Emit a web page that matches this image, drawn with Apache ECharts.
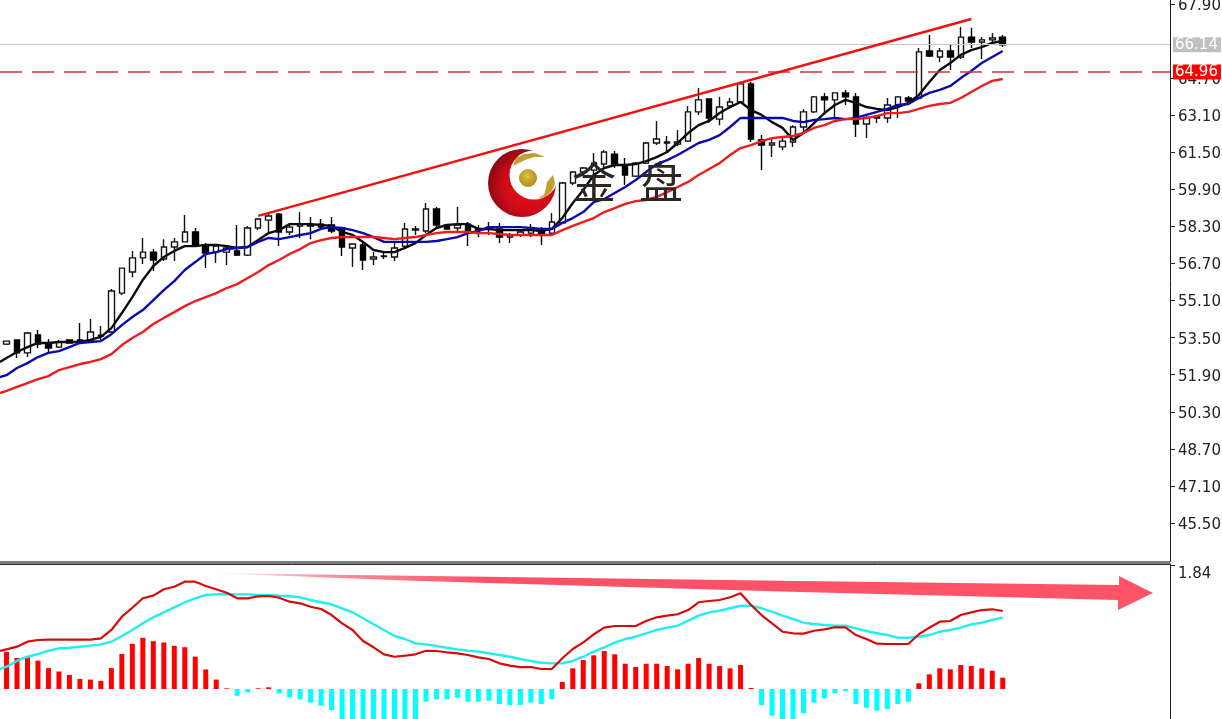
<!DOCTYPE html>
<html><head><meta charset="utf-8">
<style>html,body{margin:0;padding:0;background:#fff}#c{width:1222px;height:719px}</style>
<script src="https://cdn.jsdelivr.net/npm/echarts@6/dist/echarts.min.js"></script>
</head><body><div id="c"></div>
<script>
const priceTicks=[67.90,64.70,63.10,61.50,59.90,58.30,56.70,55.10,53.50,51.90,50.30,48.70,47.10,45.50];
const macdTicks=[1.84];
const bidPrice=66.14, alertPrice=64.96;
const trendLine=[[24,58.75],[92,67.25]];
const opens=[53.22,53.40,52.84,53.61,53.27,53.09,53.40,53.40,53.40,53.57,
53.74,55.42,56.33,56.94,57.19,56.89,57.41,57.63,58.06,57.50,
57.19,57.19,57.24,57.06,58.23,58.57,58.83,58.06,58.32,58.36,
58.40,58.36,58.23,57.37,57.50,56.89,57.00,56.98,57.45,58.14,
58.10,59.05,58.36,58.23,58.40,58.14,58.19,58.19,57.84,57.93,
58.01,58.10,58.01,58.45,60.17,60.65,60.73,60.99,61.42,60.95,
60.47,61.03,61.90,61.90,61.85,61.98,63.24,63.80,62.93,63.50,
63.67,64.45,62.03,61.81,61.73,61.94,62.59,63.24,63.89,63.76,
64.06,63.89,62.72,63.06,62.98,63.54,63.84,63.84,65.87,65.61,
65.87,65.61,66.47,66.26,66.35,66.47];
const closes=[53.35,52.84,53.70,53.22,53.05,53.31,53.27,53.31,53.74,53.60,
55.51,56.50,56.94,57.19,56.85,57.41,57.63,58.06,57.50,57.15,
57.45,57.37,57.06,58.23,58.62,58.75,58.06,58.27,58.40,58.32,
58.27,58.10,57.41,57.54,56.85,56.98,57.02,57.37,58.19,58.19,
59.05,58.36,58.19,58.36,58.06,58.19,58.27,57.84,57.93,58.06,
58.23,57.97,58.49,60.17,60.65,60.82,61.03,61.51,60.99,60.52,
61.03,61.90,62.07,61.94,61.94,63.24,63.76,62.98,63.45,63.67,
64.45,62.07,61.81,61.90,61.98,62.59,63.24,63.89,63.76,64.06,
63.89,62.72,62.98,62.98,63.54,63.89,63.71,65.83,65.65,65.87,
65.61,66.47,66.26,66.35,66.43,66.14];
const lows=[53.18,52.62,52.66,53.05,52.84,53.05,53.27,53.27,53.27,53.31,
53.70,55.34,56.11,56.68,56.37,56.81,56.81,57.63,57.45,56.50,
56.72,56.63,57.02,57.02,58.14,58.06,57.45,57.93,57.80,57.75,
58.23,58.01,57.02,56.55,56.42,56.63,56.89,56.81,57.32,57.93,
58.01,58.23,58.19,58.01,57.45,57.84,57.93,57.58,57.58,57.84,
57.84,57.50,57.93,58.45,60.09,60.60,60.52,60.86,60.82,60.09,
60.43,60.99,61.81,61.47,61.77,61.94,63.11,62.76,62.67,63.41,
63.63,61.94,60.73,61.29,61.60,61.73,62.37,63.19,63.11,62.98,
63.54,62.16,62.11,62.76,62.76,62.98,63.63,63.84,65.61,65.39,
65.05,65.52,66.00,65.52,66.26,66.04];
const highs=[53.35,53.40,53.74,53.83,53.44,53.40,53.40,54.13,54.30,54.00,
55.60,56.50,57.24,57.80,57.32,57.75,57.80,58.79,58.23,57.58,
57.50,57.45,58.36,58.32,58.66,58.88,58.88,58.45,58.92,58.70,
58.62,58.70,58.23,57.54,57.63,57.19,57.19,57.63,58.45,58.32,
59.31,59.14,58.40,59.14,58.49,58.36,58.49,58.45,58.01,58.14,
58.40,58.27,58.88,60.22,60.65,60.86,61.47,61.60,61.55,61.25,
61.08,61.94,62.85,62.20,62.46,63.50,64.27,63.80,63.89,63.84,
64.53,64.53,62.24,62.11,62.11,62.67,63.37,63.93,64.06,64.06,
64.19,64.06,63.11,63.11,63.84,63.93,63.93,66.00,66.56,66.00,
66.13,66.91,66.87,66.47,66.65,66.56];
const maFast=[52.62,52.88,53.09,53.27,53.27,53.31,53.31,53.31,53.40,53.53,
53.91,54.56,55.25,55.99,56.59,56.98,57.24,57.45,57.45,57.50,
57.50,57.45,57.37,57.41,57.71,58.01,58.14,58.40,58.40,58.40,
58.36,58.32,58.06,57.93,57.63,57.28,57.19,57.19,57.37,57.58,
57.93,58.23,58.36,58.40,58.40,58.19,58.19,58.14,58.14,58.14,
58.14,58.10,58.19,58.66,59.31,59.87,60.52,60.82,60.95,60.95,
60.99,61.12,61.29,61.51,61.90,62.33,62.67,62.85,63.19,63.45,
63.67,63.32,63.11,62.80,62.55,62.03,62.33,62.76,63.19,63.54,
63.76,63.63,63.45,63.37,63.32,63.45,63.63,63.97,64.53,65.05,
65.35,65.70,65.91,66.04,66.22,66.30];
const maMid=[51.88,52.19,52.40,52.66,52.84,52.92,53.09,53.27,53.31,53.35,
53.65,54.04,54.39,54.69,55.12,55.55,55.94,56.42,56.76,57.11,
57.19,57.32,57.37,57.41,57.63,57.80,57.75,57.84,57.93,58.01,
58.19,58.27,58.23,58.14,58.01,57.84,57.63,57.63,57.63,57.63,
57.63,57.67,57.75,57.84,58.01,58.10,58.27,58.27,58.27,58.27,
58.23,58.19,58.19,58.45,58.66,58.92,59.35,59.48,59.74,60.00,
60.30,60.65,60.99,61.16,61.38,61.64,61.90,62.03,62.24,62.59,
62.98,62.98,62.98,62.98,62.98,62.85,62.80,62.89,62.93,62.98,
62.93,62.98,63.11,63.24,63.37,63.54,63.58,63.84,64.06,64.19,
64.36,64.70,65.01,65.35,65.61,65.87];
const maSlow=[51.20,51.37,51.54,51.71,51.84,52.10,52.23,52.36,52.45,52.57,
52.79,53.18,53.48,53.74,54.09,54.35,54.60,54.86,55.08,55.25,
55.42,55.64,55.81,56.07,56.33,56.63,56.85,57.11,57.32,57.58,
57.71,57.80,57.84,57.84,57.84,57.84,57.80,57.75,57.80,57.84,
57.93,58.01,58.06,58.06,58.06,58.01,58.01,57.97,57.93,57.93,
57.93,57.93,57.93,58.14,58.32,58.49,58.66,58.92,59.09,59.27,
59.39,59.44,59.57,59.78,60.00,60.22,60.52,60.78,61.03,61.38,
61.68,61.81,61.98,62.11,62.16,62.20,62.33,62.55,62.67,62.85,
62.93,62.93,62.98,63.06,63.19,63.19,63.24,63.37,63.50,63.58,
63.63,63.84,64.10,64.36,64.58,64.66];
const macdLine=[.589,.628,.702,.727,.732,.732,.732,.732,.732,.752,
.876,1.073,1.206,1.346,1.385,1.480,1.518,1.592,1.592,1.529,
1.480,1.429,1.346,1.346,1.376,1.380,1.355,1.296,1.272,1.221,
1.187,1.098,.975,.876,.712,.619,.515,.479,.494,.515,
.568,.564,.545,.530,.505,.470,.445,.381,.346,.326,
.326,.297,.297,.456,.594,.693,.812,.910,.935,.935,
.935,1.009,1.064,1.088,1.109,1.172,1.287,1.306,1.321,1.361,
1.420,1.247,1.098,.975,.850,.827,.822,.865,.886,.916,
.916,.801,.742,.672,.668,.668,.668,.812,.910,.999,
1.009,1.098,1.138,1.172,1.183,1.158];
const signalLine=[.331,.416,.479,.519,.568,.604,.613,.628,.643,.663,
.702,.787,.876,.975,1.064,1.138,1.212,1.287,1.346,1.395,
1.405,1.410,1.405,1.405,1.395,1.395,1.385,1.376,1.361,1.321,
1.287,1.257,1.198,1.138,1.049,.960,.876,.787,.742,.678,
.663,.638,.613,.589,.568,.554,.530,.505,.479,.445,
.416,.390,.381,.381,.416,.479,.554,.619,.687,.742,
.776,.827,.876,.910,.939,1.014,1.088,1.138,1.162,1.198,
1.236,1.236,1.198,1.147,1.088,1.039,.984,.965,.950,.939,
.939,.901,.861,.827,.801,.761,.761,.776,.801,.850,
.876,.910,.960,.984,1.024,1.064];
const histogram=[.55,.46,.48,.42,.31,.26,.21,.15,.14,.12,
.31,.52,.67,.76,.71,.69,.64,.62,.48,.29,
.14,.01,-.10,-.05,.01,.025,-.064,-.123,-.153,-.203,
-.248,-.312,-.46,-.49,-.49,-.475,-.475,-.46,-.46,-.46,
-.188,-.153,-.153,-.129,-.188,-.188,-.174,-.223,-.237,-.237,
-.203,-.223,-.153,.104,.307,.43,.50,.564,.515,.375,
.326,.375,.375,.341,.292,.375,.46,.375,.341,.307,
.356,.015,-.237,-.396,-.475,-.46,-.36,-.203,-.138,-.064,
-.03,-.223,-.278,-.322,-.297,-.223,-.188,.085,.218,.307,
.292,.356,.341,.307,.272,.168];
// value of each line where it enters at the left edge of the pane
const leadIn={fast:52.45,mid:51.80,slow:51.11,macd:.564,signal:.297};

const xMin=-0.62, xMax=110.95;
const withIndex=(a,lead)=>[[xMin,lead]].concat(a.map((v,i)=>[i,v]));
const candles=opens.map((o,i)=>[i,o,closes[i],lows[i],highs[i]]);
const axisText={color:'#222',fontFamily:'DejaVu Sans',fontSize:15,margin:8};
const line=(name,data,lead,color,xi,width)=>({name,type:'line',data:withIndex(data,lead),xAxisIndex:xi,yAxisIndex:xi,
  symbol:'none',smooth:false,lineStyle:{color,width},z:4,silent:true});
const levelLabel=(bg)=>({position:'end',distance:3,formatter:p=>p.value.toFixed(2),color:'#fff',backgroundColor:bg,
  fontFamily:'DejaVu Sans',fontSize:15,lineHeight:14,padding:[1,3,0,2]});
const chart=echarts.init(document.getElementById('c'),null,{renderer:'canvas'});
chart.setOption({
  animation:false,backgroundColor:'#fff',
  grid:[{left:0,right:52,top:0,height:561,outerBoundsMode:'none'},{left:0,right:52,top:564,height:155,outerBoundsMode:'none'}],
  xAxis:[
    {type:'value',gridIndex:0,min:xMin,max:xMax,position:'bottom',axisLine:{show:true,onZero:false,lineStyle:{color:'#333',width:1}},axisTick:{show:false},axisLabel:{show:false},splitLine:{show:false}},
    {type:'value',gridIndex:1,min:xMin,max:xMax,position:'top',axisLine:{show:true,onZero:false,lineStyle:{color:'#333',width:1}},axisTick:{show:false},axisLabel:{show:false},splitLine:{show:false}}
  ],
  yAxis:[
    {type:'value',gridIndex:0,position:'right',min:43.86,max:68.07,splitLine:{show:false},
     axisLine:{show:true,onZero:false,lineStyle:{color:'#222',width:1}},
     axisTick:{show:true,length:5,lineStyle:{color:'#222'},customValues:priceTicks},
     axisLabel:Object.assign({customValues:priceTicks,formatter:v=>v.toFixed(2),showMinLabel:true,showMaxLabel:true,verticalAlign:'top',padding:[-5.5,0,0,0]},axisText)},
    {type:'value',gridIndex:1,position:'right',min:-0.445,max:1.855,splitLine:{show:false},
     axisLine:{show:true,onZero:false,lineStyle:{color:'#222',width:1}},
     axisTick:{show:true,length:5,lineStyle:{color:'#222'},customValues:macdTicks},
     axisLabel:Object.assign({customValues:macdTicks,formatter:v=>v.toFixed(2),verticalAlign:'top',padding:[2,0,0,0],showMinLabel:true,showMaxLabel:true},axisText)}
  ],
  series:[
    {name:'Levels',type:'line',data:[],xAxisIndex:0,yAxisIndex:0,z:1,silent:true,
     markLine:{symbol:'none',silent:true,animation:false,data:[
       {yAxis:bidPrice,lineStyle:{color:'#c4c4c4',width:1,type:'solid'},label:levelLabel('#c0c0c0')},
       {yAxis:alertPrice,lineStyle:{color:'#d8343c',width:1.5,type:[22,10]},label:levelLabel('#ff0000')}
     ]}},
    {name:'Price',type:'candlestick',data:candles,xAxisIndex:0,yAxisIndex:0,barWidth:6,z:3,silent:true,
     itemStyle:{color:'#fff',color0:'#000',borderColor:'#111',borderColor0:'#000',borderWidth:1.4}},
    line('MA fast',maFast,leadIn.fast,'#0c0c0c',0,2.4),
    line('MA mid',maMid,leadIn.mid,'#0a0ab0',0,2.4),
    line('MA slow',maSlow,leadIn.slow,'#ee1c1c',0,2.4),
    {name:'Trend',type:'line',data:trendLine,xAxisIndex:0,yAxisIndex:0,symbol:'none',lineStyle:{color:'#f01010',width:2.4},z:5,silent:true},
    {name:'Histogram',type:'bar',data:histogram.map((v,i)=>[i,v]),xAxisIndex:1,yAxisIndex:1,barWidth:5,z:2,silent:true,
     itemStyle:{color:p=>p.value[1]>=0?'#ff0000':'#00ffff'}},
    line('Signal',signalLine,leadIn.signal,'#22eef0',1,2.4),
    line('MACD',macdLine,leadIn.macd,'#d80a0a',1,2.2)
  ],
  graphic:{elements:[
    {type:'rect',silent:true,z:1,shape:{x:0,y:561,width:1170,height:3},style:{fill:'#7c7c7c'}},
    {type:'polygon',silent:true,z:6,shape:{points:[[207,573],[800,581],[1119,585],[1119,576],[1153,593],[1118,610],[1118,600],[800,592],[420,581]]},
     style:{fill:{type:'linear',x:0,y:0,x2:1,y2:0,global:false,colorStops:[{offset:0,color:'rgba(255,84,104,0)'},{offset:0.12,color:'rgba(245,80,100,0.6)'},{offset:0.3,color:'#fb5066'},{offset:1,color:'#ff5468'}]}}},
    {type:'circle',silent:true,z:7,shape:{cx:522,cy:183,r:34},
     style:{fill:{type:'radial',x:0.6,y:0.55,r:0.65,colorStops:[{offset:0,color:'#f0101a'},{offset:0.6,color:'#cc0a18'},{offset:1,color:'#7a0a10'}]}}},
    {type:'circle',silent:true,z:8,shape:{cx:534,cy:175,r:24.5},style:{fill:'#fff'}},
    {type:'circle',silent:true,z:9,shape:{cx:528,cy:178,r:9},
     style:{fill:{type:'radial',x:0.45,y:0.4,r:0.7,colorStops:[{offset:0,color:'#e0c040'},{offset:1,color:'#a08418'}]}}},
    {type:'polygon',silent:true,z:9,shape:{points:[[513,166],[516,158],[524,154],[535,153],[545,157],[534,157],[525,160],[519,163]]},style:{fill:'#bfa030'}},
    {type:'polygon',silent:true,z:9,shape:{points:[[537,199],[544,195],[546,188],[547,182],[553,175],[555,183],[552,191],[545,197]]},style:{fill:'#bfa030'}},
    {type:'text',silent:true,z:10,x:572,y:160,style:{text:'金',font:'44px "Noto Sans CJK SC"',fill:'#2c2622'}},
    {type:'text',silent:true,z:10,x:639,y:160,style:{text:'盘',font:'44px "Noto Sans CJK SC"',fill:'#2c2622'}}
  ]}
});
</script></body></html>
